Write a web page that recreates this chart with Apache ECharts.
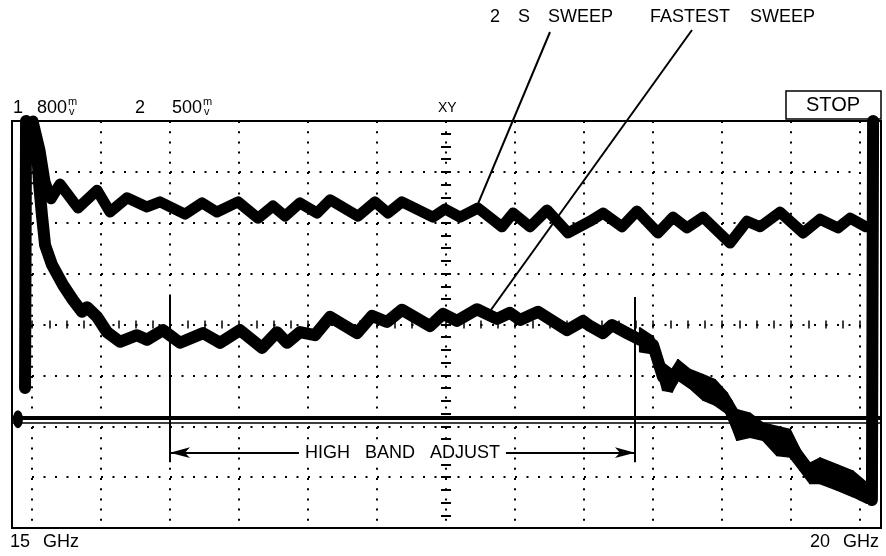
<!DOCTYPE html>
<html><head><meta charset="utf-8">
<script src="https://cdn.jsdelivr.net/npm/echarts@6/dist/echarts.min.js"></script>
<style>html,body{margin:0;padding:0;background:#fff}#c{width:886px;height:556px}</style>
</head><body><div id="c"></div>
<script>
// ---- data (x in GHz, y in screen divisions, 0 = bottom of graticule) ----
const slowFreq = [15.006,15.048,15.079,15.115,15.169,15.278,15.393,15.471,15.574,15.694,15.773,15.924,16.027,16.117,16.244,16.365,16.455,16.528,16.618,16.721,16.800,16.969,17.071,17.150,17.234,17.421,17.494,17.585,17.693,17.838,17.905,18.007,18.110,18.237,18.370,18.448,18.563,18.653,18.780,18.871,18.955,19.052,19.215,19.318,19.396,19.517,19.656,19.758,19.867,19.940,20.036];
const slowLevel = [8.00,7.43,6.80,6.47,6.76,6.29,6.64,6.21,6.49,6.31,6.41,6.17,6.39,6.21,6.41,6.09,6.33,6.13,6.39,6.19,6.45,6.13,6.41,6.19,6.41,6.11,6.27,6.11,6.29,5.92,6.19,5.92,6.25,5.80,6.03,6.19,5.92,6.23,5.80,6.11,5.90,6.11,5.60,6.03,5.92,6.21,5.80,6.07,5.90,6.09,5.92];

const fastFreq = [14.958,14.964,14.994,15.030,15.042,15.060,15.079,15.121,15.187,15.248,15.302,15.332,15.393,15.453,15.531,15.634,15.694,15.791,15.894,16.033,16.135,16.256,16.389,16.479,16.540,16.618,16.709,16.800,16.963,17.053,17.144,17.234,17.403,17.482,17.566,17.687,17.808,17.886,17.947,18.056,18.231,18.327,18.370,18.448,18.502,18.593,18.671,18.750,18.810,18.865,18.901,18.973,19.052,19.124,19.197,19.257,19.336,19.414,19.499,19.577,19.638,19.698,19.758,19.861,19.958,20.042,20.072,20.079];
const fastLevel = [2.75,8.00,7.92,7.47,6.80,6.15,5.56,5.17,4.78,4.48,4.25,4.34,4.15,3.85,3.66,3.79,3.70,3.89,3.64,3.83,3.64,3.89,3.54,3.85,3.64,3.85,3.79,4.15,3.83,4.17,4.05,4.29,3.97,4.21,4.07,4.30,4.11,4.23,4.09,4.25,3.89,4.07,3.97,3.83,3.99,3.83,3.70,3.60,2.97,2.89,3.11,2.93,2.77,2.65,2.46,2.02,2.02,1.89,1.71,1.67,1.34,1.08,1.12,1.00,0.86,0.69,0.55,8.00];

// noisy envelope of the fast sweep at the top of the band
const noiseFreq = [18.671,18.750,18.810,18.865,18.901,18.973,19.052,19.124,19.197,19.257,19.336,19.414,19.499,19.577,19.638,19.698,19.758,19.861,19.958,20.042];
const noiseHigh = [3.93,3.76,3.24,3.11,3.30,3.11,3.01,2.91,2.65,2.32,2.25,2.06,1.99,1.93,1.53,1.27,1.37,1.24,1.11,0.88];
const noiseLow  = [3.47,3.43,2.71,2.68,2.91,2.75,2.52,2.42,2.25,1.73,1.79,1.73,1.43,1.40,1.14,0.88,0.88,0.75,0.62,0.49];

// annotations
const adjustFreq = [15.833, 18.641];
const adjustTop = [4.56, 4.54];
const adjustBottom = 1.29;
const adjustArrowLevel = 1.48;
const refLevels = [2.17, 2.06];
const markerPoint = [14.915, 2.14];
const slowLeaderEnd = [17.693, 6.37];
const fastLeaderEnd = [17.772, 4.29];
const axisLabels = ['15', '20'];
const unitLabel = 'GHz';

const xMin = 14.8792, xMax = 20.1268;
const FONT = 'Liberation Sans';
const pair = (xs, ys) => xs.map((x, i) => [x, ys[i]]);

const tickStyle = {color:'#000', width:1.5};
const gratX = (pos) => ({
  gridIndex:1, type:'value', min:-6, max:6, interval:1, position:pos,
  axisLine:{show:false, onZero:true},
  axisTick:{show:true, length:4, lineStyle:tickStyle},
  minorTick:{show:true, splitNumber:4, length:4, lineStyle:tickStyle},
  axisLabel:{show:false},
  splitLine:{show:pos==='bottom', lineStyle:{color:'#000', width:2, type:[2,8.2]}}
});
const gratY = (pos) => ({
  gridIndex:1, type:'value', min:-4, max:4, interval:1, position:pos,
  axisLine:{show:false, onZero:true},
  axisTick:{show:true, length:5, lineStyle:{color:'#000', width:2}},
  minorTick:{show:true, splitNumber:4, length:5, lineStyle:{color:'#000', width:2}},
  axisLabel:{show:false},
  splitLine:{show:pos==='left', lineStyle:{color:'#000', width:2, type:[2,9.5]}}
});

const txt = (t, x, y, size, align) => ({
  type:'text', x:x, y:y, silent:true,
  style:{text:t, fontFamily:FONT, fontSize:size, fill:'#000', align:align||'left', verticalAlign:'middle'}
});

const chart = echarts.init(document.getElementById('c'));
chart.setOption({
  animation:false,
  backgroundColor:'#fff',
  textStyle:{fontFamily:FONT},
  grid:[
    {left:12, right:5, top:121, bottom:28, show:true, borderColor:'#000', borderWidth:2, backgroundColor:'transparent', outerBoundsMode:'none'},
    {left:32, right:26, top:121, bottom:28, show:false, outerBoundsMode:'none'}
  ],
  xAxis:[
    {gridIndex:0, type:'value', min:xMin, max:xMax, show:false},
    gratX('bottom'), gratX('top')
  ],
  yAxis:[
    {gridIndex:0, type:'value', min:0, max:8, show:false},
    gratY('left'), gratY('right')
  ],
  series:[
    {
      name:'2 S SWEEP', type:'line', xAxisIndex:0, yAxisIndex:0, clip:false,
      data:pair(slowFreq, slowLevel), symbol:'none', z:5,
      lineStyle:{color:'#000', width:11, join:'round', cap:'round'},
      markLine:{
        silent:true, symbol:'none', animation:false, label:{show:false},
        lineStyle:{color:'#000', width:2, type:'solid'},
        data:[[{x:550, y:32}, {coord:slowLeaderEnd}]]
      }
    },
    {
      name:'FASTEST SWEEP', type:'line', xAxisIndex:0, yAxisIndex:0, clip:false,
      data:pair(fastFreq, fastLevel), symbol:'none', z:5,
      lineStyle:{color:'#000', width:12, join:'round', cap:'round'},
      markLine:{
        silent:true, symbol:'none', animation:false, label:{show:false},
        lineStyle:{color:'#000', width:2, type:'solid'},
        data:[
          [{x:692, y:30}, {coord:fastLeaderEnd}],
          [{coord:[adjustFreq[0], adjustTop[0]]}, {coord:[adjustFreq[0], adjustBottom]}],
          [{coord:[adjustFreq[1], adjustTop[1]]}, {coord:[adjustFreq[1], adjustBottom]}],
          [{coord:[adjustFreq[0], adjustArrowLevel], symbol:'arrow', symbolSize:[8,20],
            label:{show:true, position:'insideMiddle', formatter:'HIGH   BAND   ADJUST', color:'#000',
                   fontFamily:FONT, fontSize:18, backgroundColor:'#fff', padding:[2,6]}},
           {coord:[adjustFreq[1], adjustArrowLevel], symbol:'arrow', symbolSize:[8,20]}],
          {yAxis:refLevels[0], lineStyle:{width:4}},
          {yAxis:refLevels[1], lineStyle:{width:1.5}}
        ]
      },
      markPoint:{
        silent:true, animation:false, label:{show:false},
        data:[{coord:markerPoint, symbol:'circle', symbolSize:[10,18], itemStyle:{color:'#000'}}]
      }
    },
    {
      name:'fastNoise', type:'custom', xAxisIndex:0, yAxisIndex:0, z:4,
      data:noiseFreq.map((f, i) => [f, noiseLow[i], noiseHigh[i]]),
      encode:{x:0, y:[1, 2]},
      renderItem:(params, api) => {
        const i = params.dataIndex;
        if (i >= noiseFreq.length - 1) return null;
        const pts = [
          api.coord([api.value(0), api.value(2)]),
          api.coord([noiseFreq[i + 1], noiseHigh[i + 1]]),
          api.coord([noiseFreq[i + 1], noiseLow[i + 1]]),
          api.coord([api.value(0), api.value(1)])
        ];
        return {type:'polygon', shape:{points:pts}, style:{fill:'#000', stroke:'#000', lineWidth:2, lineJoin:'round'}};
      }
    }
  ],
  graphic:[
    txt('1', 13, 108, 18), txt('800', 37, 108, 18), txt('m', 68, 102, 11), txt('v', 69, 112, 11),
    txt('2', 135, 108, 18), txt('500', 172, 108, 18), txt('m', 203, 102, 11), txt('v', 204, 112, 11),
    txt('XY', 438, 108, 14),
    {type:'rect', shape:{x:786, y:91, width:95, height:28}, style:{fill:'#fff', stroke:'#000', lineWidth:1.5}, silent:true},
    txt('STOP', 833, 105, 20, 'center'),
    txt('2', 490, 17, 18), txt('S', 518, 17, 18), txt('SWEEP', 548, 17, 18),
    txt('FASTEST', 650, 17, 18), txt('SWEEP', 750, 17, 18),
    txt(axisLabels[0], 10, 542, 18), txt(unitLabel, 43, 542, 18),
    txt(axisLabels[1], 810, 542, 18), txt(unitLabel, 843, 542, 18)
  ]
});
</script>
</body></html>
